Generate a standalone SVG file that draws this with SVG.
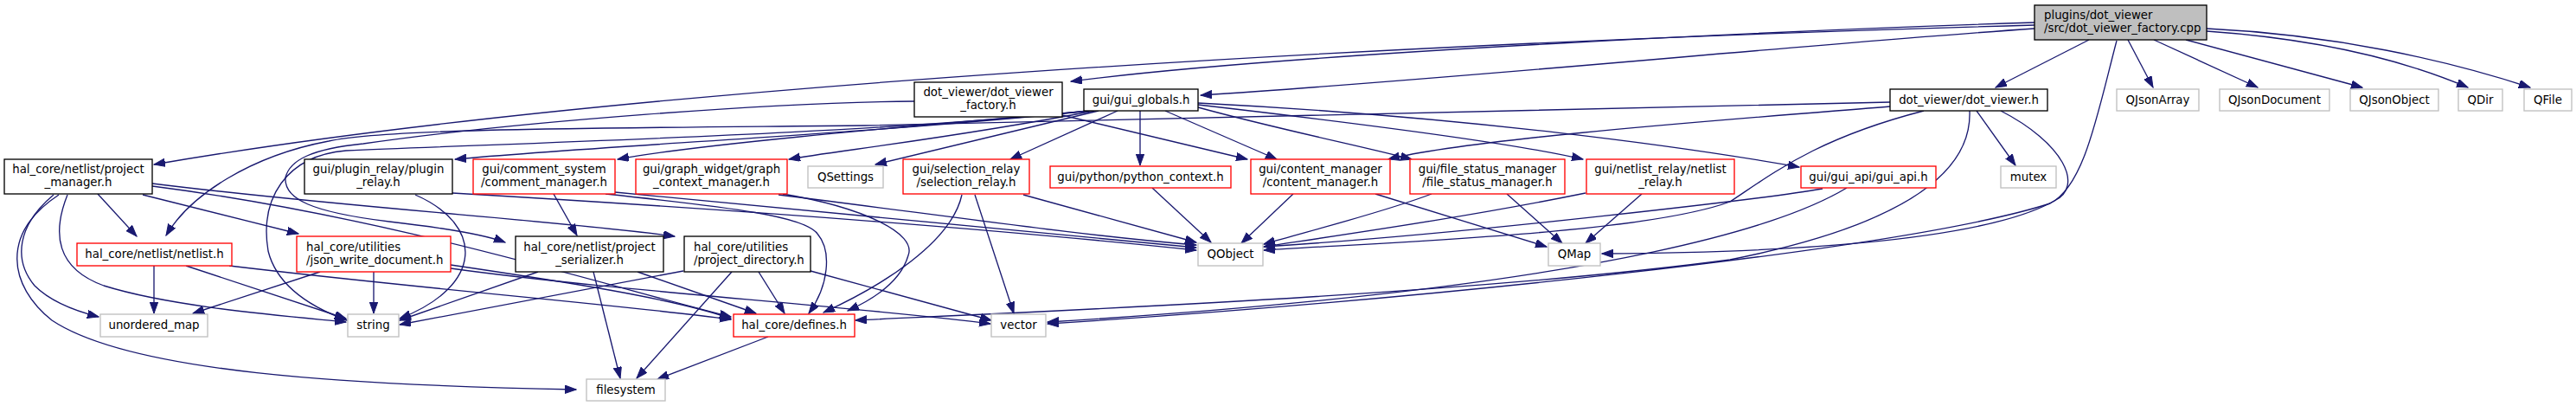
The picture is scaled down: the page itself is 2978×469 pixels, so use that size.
<svg xmlns="http://www.w3.org/2000/svg" width="2978" height="469" viewBox="0 0 2978 469">
<style>
text{font-family:"DejaVu Sans","Liberation Sans",sans-serif;font-size:13.33px;fill:#000}
.c{text-anchor:middle}
.s{text-anchor:start}
.nb{fill:#fff;stroke:#000;stroke-width:1.33}
.nr{fill:#fff;stroke:#ff0000;stroke-width:1.33}
.ng{fill:#fff;stroke:#bfbfbf;stroke-width:1.33}
.root{fill:#bfbfbf;stroke:#000;stroke-width:1.33}
#edges path{fill:none;stroke:#191970;stroke-width:1.33;marker-end:url(#ah)}
</style>
<defs>
<marker id="ah" markerUnits="userSpaceOnUse" markerWidth="14" markerHeight="10" refX="13" refY="4.7" orient="auto">
<path d="M0,0 L13,4.7 L0,9.4 z" fill="#191970" stroke="#191970" stroke-width="1"/>
</marker>
</defs>
<rect width="2978" height="469" fill="#fff"/>
<g id="edges">
<path d="M2352,26 C2100,34 1500,60 1238,94"/>
<path d="M2352,29 C1600,50 700,100 178,190"/>
<path d="M2352,33 C2100,50 1700,90 1388,110"/>
<path d="M2415,46 L2307,101"/>
<path d="M2460,46 L2489,101"/>
<path d="M2490,46 L2610,101"/>
<path d="M2527,46 L2731,101"/>
<path d="M2551,36 C2680,45 2780,70 2853,101"/>
<path d="M2551,33 C2700,40 2830,70 2925,101"/>
<path d="M2447,47 C2425,130 2410,215 2370,235 C2200,290 1600,350 1211,374"/>
<path d="M2313,128 C2385,165 2410,215 2375,232 C2290,280 2050,292 1852,293"/>
<path d="M2185,118 C1900,126 1500,137 1000,145 C700,148 450,148 380,163 C290,180 220,225 192,272"/>
<path d="M1057,117 C900,118 600,140 420,166 C360,172 335,185 330,205 C328,230 360,245 450,256 C520,264 560,271 584,280"/>
<path d="M1228,133 L1442,184"/>
<path d="M1292,128 L1168,184"/>
<path d="M1318,128 L1318,191"/>
<path d="M1347,128 L1476,184"/>
<path d="M1385,124 C1480,150 1580,170 1632,184"/>
<path d="M1385,121 C1550,140 1750,165 1830,184"/>
<path d="M1385,119 C1700,135 1950,170 2080,193"/>
<path d="M1270,128 L1012,190"/>
<path d="M1265,128 C1100,160 960,175 912,184"/>
<path d="M1262,128 C1000,150 800,168 714,184"/>
<path d="M1260,128 C1000,155 700,168 526,184"/>
<path d="M1258,128 C1000,155 600,165 400,174 C330,180 300,230 310,290 C320,330 360,355 401,370"/>
<path d="M2185,123 C2000,138 1700,160 1605,184"/>
<path d="M2285,128 L2330,191"/>
<path d="M2224,128 C2100,160 2050,200 2000,233 C1900,270 1600,280 1461,289"/>
<path d="M2135,217 C2080,250 1900,330 1211,372"/>
<path d="M2107,218 C2050,228 1700,270 1461,285"/>
<path d="M2277,128 C2280,200 2200,260 2000,300 C1700,340 1200,360 989,370"/>
<path d="M113,224 L158,273"/>
<path d="M62,225 C20,260 15,300 40,330 C60,350 90,360 114,366"/>
<path d="M78,225 C60,270 65,310 120,330 C200,355 330,365 400,372"/>
<path d="M68,225 C0,270 10,330 60,370 C150,430 400,445 666,450"/>
<path d="M165,225 L345,270"/>
<path d="M176,212 C400,240 650,255 780,273"/>
<path d="M176,215 C450,250 700,330 845,366"/>
<path d="M178,307 L178,362"/>
<path d="M215,307 L400,368"/>
<path d="M265,307 C500,335 700,350 845,369"/>
<path d="M521,306 C650,325 780,345 845,368"/>
<path d="M521,310 C700,335 1000,355 1145,374"/>
<path d="M370,314 L223,362"/>
<path d="M432,314 L432,362"/>
<path d="M622,314 L462,370"/>
<path d="M686,314 L717,437"/>
<path d="M737,314 L874,362"/>
<path d="M790,313 L462,375"/>
<path d="M846,314 L736,437"/>
<path d="M877,314 L907,362"/>
<path d="M937,313 L1146,370"/>
<path d="M888,389 L760,438"/>
<path d="M640,224 L667,272"/>
<path d="M711,222 C1000,250 1200,270 1383,286"/>
<path d="M700,224 C850,240 930,250 945,270 C962,290 958,330 935,362"/>
<path d="M523,223 C900,245 1200,270 1383,289"/>
<path d="M900,225 C1100,250 1250,272 1383,283"/>
<path d="M480,225 C560,260 560,330 462,368"/>
<path d="M1112,225 C1100,280 1020,330 952,361"/>
<path d="M1127,225 L1172,362"/>
<path d="M1183,225 L1383,280"/>
<path d="M1332,217 L1400,280"/>
<path d="M1495,224 L1435,281"/>
<path d="M1590,224 L1788,285"/>
<path d="M1655,224 C1600,245 1520,265 1461,282"/>
<path d="M1742,224 L1806,281"/>
<path d="M1833,223 C1700,250 1560,270 1461,285"/>
<path d="M1898,224 L1833,281"/>
<path d="M905,224 C1000,240 1060,270 1050,295 C1040,330 1000,350 980,359"/>
</g>
<g id="n_root"><rect class="root" x="2352" y="6" width="199" height="40"/><text class="s" x="2363" y="22">plugins/dot_viewer</text><text class="s" x="2363" y="37">/src/dot_viewer_factory.cpp</text></g>
<g id="n_dvf"><rect class="nb" x="1057" y="95" width="171" height="40"/><text class="c" x="1142.5" y="111">dot_viewer/dot_viewer</text><text class="c" x="1142.5" y="126">_factory.h</text></g>
<g id="n_gg"><rect class="nb" x="1253" y="103" width="132" height="25"/><text class="c" x="1319" y="119.5">gui/gui_globals.h</text></g>
<g id="n_dv"><rect class="nb" x="2185" y="103" width="182" height="25"/><text class="c" x="2276" y="119.5">dot_viewer/dot_viewer.h</text></g>
<g id="n_qjarr"><rect class="ng" x="2447" y="103" width="95" height="25"/><text class="c" x="2494.5" y="119.5">QJsonArray</text></g>
<g id="n_qjdoc"><rect class="ng" x="2566" y="103" width="127" height="25"/><text class="c" x="2629.5" y="119.5">QJsonDocument</text></g>
<g id="n_qjobj"><rect class="ng" x="2717" y="103" width="102" height="25"/><text class="c" x="2768" y="119.5">QJsonObject</text></g>
<g id="n_qdir"><rect class="ng" x="2842" y="103" width="51" height="25"/><text class="c" x="2867.5" y="119.5">QDir</text></g>
<g id="n_qfile"><rect class="ng" x="2918" y="103" width="55" height="25"/><text class="c" x="2945.5" y="119.5">QFile</text></g>
<g id="n_pm"><rect class="nb" x="5" y="184" width="171" height="40"/><text class="c" x="90.5" y="200">hal_core/netlist/project</text><text class="c" x="90.5" y="215">_manager.h</text></g>
<g id="n_pr"><rect class="nb" x="352" y="184" width="171" height="40"/><text class="c" x="437.5" y="200">gui/plugin_relay/plugin</text><text class="c" x="437.5" y="215">_relay.h</text></g>
<g id="n_cm"><rect class="nr" x="547" y="184" width="164" height="40"/><text class="c" x="629" y="200">gui/comment_system</text><text class="c" x="629" y="215">/comment_manager.h</text></g>
<g id="n_gcm"><rect class="nr" x="735" y="184" width="175" height="40"/><text class="c" x="822.5" y="200">gui/graph_widget/graph</text><text class="c" x="822.5" y="215">_context_manager.h</text></g>
<g id="n_qset"><rect class="ng" x="934" y="192" width="87" height="25"/><text class="c" x="977.5" y="208.5">QSettings</text></g>
<g id="n_sr"><rect class="nr" x="1044" y="184" width="146" height="40"/><text class="c" x="1117" y="200">gui/selection_relay</text><text class="c" x="1117" y="215">/selection_relay.h</text></g>
<g id="n_pc"><rect class="nr" x="1214" y="192" width="209" height="25"/><text class="c" x="1318.5" y="208.5">gui/python/python_context.h</text></g>
<g id="n_com"><rect class="nr" x="1446" y="184" width="161" height="40"/><text class="c" x="1526.5" y="200">gui/content_manager</text><text class="c" x="1526.5" y="215">/content_manager.h</text></g>
<g id="n_fsm"><rect class="nr" x="1630" y="184" width="179" height="40"/><text class="c" x="1719.5" y="200">gui/file_status_manager</text><text class="c" x="1719.5" y="215">/file_status_manager.h</text></g>
<g id="n_nr"><rect class="nr" x="1834" y="184" width="171" height="40"/><text class="c" x="1919.5" y="200">gui/netlist_relay/netlist</text><text class="c" x="1919.5" y="215">_relay.h</text></g>
<g id="n_ga"><rect class="nr" x="2082" y="192" width="156" height="25"/><text class="c" x="2160" y="208.5">gui/gui_api/gui_api.h</text></g>
<g id="n_mutex"><rect class="ng" x="2313" y="192" width="64" height="25"/><text class="c" x="2345" y="208.5">mutex</text></g>
<g id="n_netlist"><rect class="nr" x="89" y="281" width="179" height="26"/><text class="c" x="178.5" y="298">hal_core/netlist/netlist.h</text></g>
<g id="n_jwd"><rect class="nr" x="343" y="273" width="178" height="41"/><text class="s" x="354" y="289.5">hal_core/utilities</text><text class="s" x="354" y="304.5">/json_write_document.h</text></g>
<g id="n_ps"><rect class="nb" x="596" y="273" width="171" height="41"/><text class="c" x="681.5" y="289.5">hal_core/netlist/project</text><text class="c" x="681.5" y="304.5">_serializer.h</text></g>
<g id="n_pd"><rect class="nb" x="791" y="273" width="146" height="41"/><text class="s" x="802" y="289.5">hal_core/utilities</text><text class="s" x="802" y="304.5">/project_directory.h</text></g>
<g id="n_qobj"><rect class="ng" x="1385" y="281" width="75" height="26"/><text class="c" x="1422.5" y="298">QObject</text></g>
<g id="n_qmap"><rect class="ng" x="1790" y="281" width="60" height="26"/><text class="c" x="1820" y="298">QMap</text></g>
<g id="n_umap"><rect class="ng" x="116" y="363" width="124" height="26"/><text class="c" x="178" y="380">unordered_map</text></g>
<g id="n_string"><rect class="ng" x="402" y="363" width="59" height="26"/><text class="c" x="431.5" y="380">string</text></g>
<g id="n_defines"><rect class="nr" x="848" y="363" width="140" height="26"/><text class="c" x="918" y="380">hal_core/defines.h</text></g>
<g id="n_vector"><rect class="ng" x="1146" y="363" width="63" height="26"/><text class="c" x="1177.5" y="380">vector</text></g>
<g id="n_fs"><rect class="ng" x="678" y="438" width="91" height="25"/><text class="c" x="723.5" y="455">filesystem</text></g>
</svg>
